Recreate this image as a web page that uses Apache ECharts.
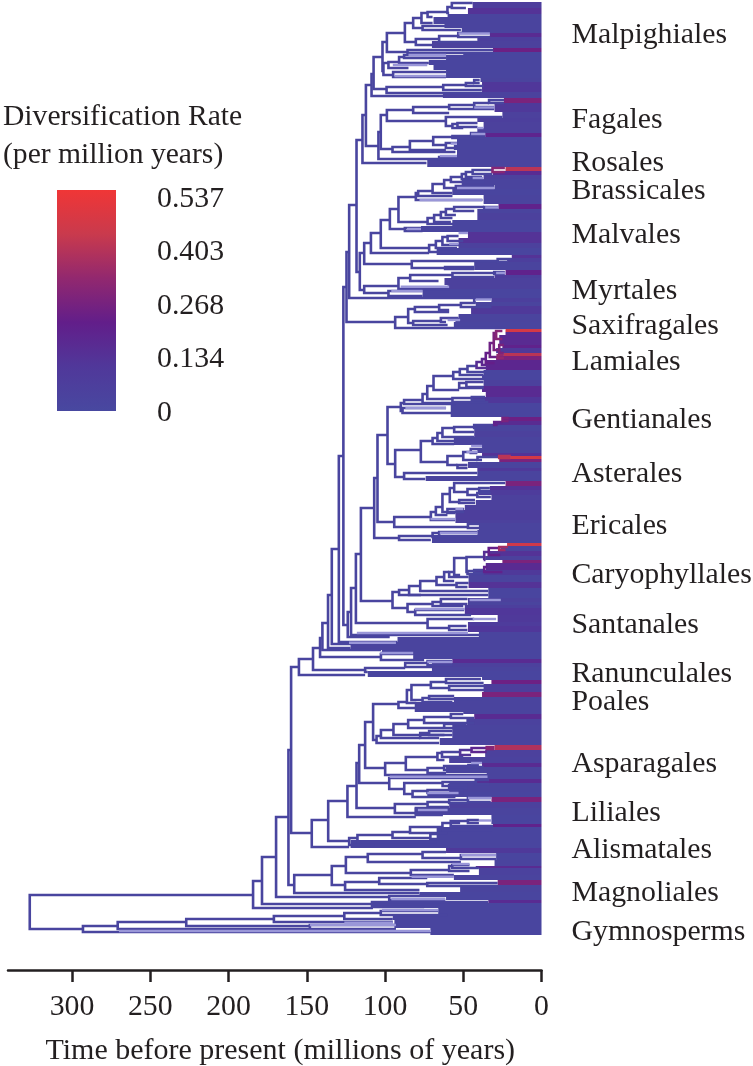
<!DOCTYPE html>
<html>
<head>
<meta charset="utf-8">
<style>
  html, body { margin: 0; padding: 0; background: #fff; }
  #chart { width: 753px; height: 1066px; }
</style>
<script src="https://cdn.jsdelivr.net/npm/echarts@6/dist/echarts.min.js"></script>
</head>
<body>
<div id="chart"></div>
<script>
// every row is one split: [age, yTop, yBottom, ageWhereTopChildEnds, ageWhereBottomChildEnds, rate]
// y is the tip position on the tree (0 at the top), rate left out = background rate
const malpighialesNodes = [
  [118.2,140,272,114.4,116.1],[114.4,115,163,112.2,73.5],[112.2,85,146,108.6,104.2],[108.6,74,96,107.3,62.8],
  [107.3,57,89,101.6,99],[101.6,42,71,98.8,101],[98.8,33,52,87.3,85.6],[87.3,23,42,82,80.3],[82,18,28,76.7,76],
  [76.7,13,23,72.8,69.6],[72.8,12,17,60.1,69.6],[60.1,7,13,57.3,59],[57.3,3,8,44,48.3],[76,26,30,61.6,51.5],
  [80.3,39,45,65.4,69.6],[65.4,36,42,53.2,40.9],[53.2,33,37,32.8,32.8],[85.6,50,53,30.7,30.7],[101,63,75,97.8,94.8],
  [97.8,62,68,91,85],[91,57,63,87.8,72],[87.8,55,58,61,61],[94.8,72,77,61,61],[99,87,93,62.8,38],[62.8,85,90,48.3,38.1],
  [48.3,83,86,43,37],[43,80,83,39.5,39.5],[104.2,132,159,102.7,65.4],[102.7,115,149,98.8,95.2],[98.8,110,121,82,61.1],
  [82,107,113,59,59],[59,105,109,43,30.2],[43,103,107,33.5,30.2],[33.5,100,103,23.9,23.9],[61.1,117,126,25,56.9],
  [56.9,124,128,53.7,50],[53.7,123,127,40.9,40.9],[95.2,147,152,83.9,55],[84.1,141,150,69.2,61.1],[69.2,137,145,56.9,61.1],
  [56.9,136,138,44.9,36.5],[45,133,136,36,36],[61.1,143,148,53.7,53.7],[65.4,157,159,53.7,53.7]
];
const rosidNodes = [
  [116.1,253,290,113.3,113.3],[113.3,243,264,109,82.9],[109,233,253,102.7,71.8],[102.7,220,248,96.9,71.8],
  [96.9,209,229,91.4,87.3],[91.4,197,222,80.3,72.8],[80.3,193,200,78.8,37.7],[78.8,191,196,69.6,56.9],[69.6,184,193,62.2,56.9],
  [62.2,180,188,57.9,54.7],[57.9,177,182,50.9,36.6],[50.9,174,179,48.3,38],[48.3,172,177,44,38],[44,170,174,31.3,31.3],
  [31.3,168,172,23.4,23.4,.3],[54.7,186,189,30.2,30.2],[72.8,218,224,68.6,56],[68.6,215,222,64.3,57.9],[64.3,212,218,61.1,56.9],
  [61.1,209,215,55.8,54.7],[55.8,207,211,36.6,43],[36.6,207,209,27.5,27.5],[87.3,228,231,77,76],[71.8,245,252,67.5,56],
  [67.5,241,248,63.3,54],[63.3,237,245,60,52],[60,236,241,53,50],[82.9,261,268,28,61.6],[28,259,262,19,21.7],[61.6,267,269,43,43],
  [113.3,286,293,91.4,97.8],[91.4,278,289,83.9,59],[83.9,275,281,56.9,65.8],[56.9,273,277,30.2,30.2],[30.2,272,274,23.4,23.4],
  [97.8,291,296,76,76],[122.9,205,298,118.2,43],[43,298,302,32,42],[124.6,252,322,122.9,93.5],[93.5,317,328,85.2,23.4],
  [85.2,309,323,80.9,82],[80.9,307,312,65.4,59],[65.4,305,310,51.5,59],[51.5,303,307,42,32],[82,321,325,64.3,60],[64.3,318,322,53,61]
];
const asteridNodes = [
  [126.6,287,625,124.6,123.8],[123.8,612,637,121.7,97],[121.7,588,635,118.6,39],[118.6,554,623,115.4,72.8],[115.4,508,601,106.9,95.2],
  [106.9,478,538,104.8,91],[104.8,435,522,98.4,94.1],[98.4,407,464,89.9,93.5],[129.5,456,642,126.6,92],[134,549,644,129.5,92],
  [89.9,403,411,87.8,88.8],[87.8,400,404,76,55],[88.8,408,413,61,57.5],[76,394,403,73,55],[73,386,399,69,57],[69,376,390,56.4,52.6],
  [56.4,372,379,52.2,37],[52.2,369,375,47.3,37],[47.3,366,372,41.5,35.6],[41.5,362,368,38,35,.15],[38,359,365,35.6,33,.18],
  [35.6,353,363,33,30,.22],[33,343,357,30.5,28,.24],[30.5,333,350,29,27,.27],[29,331,339,25,25,.3],[27,345,353,24,24,.27],[28,355,358,24,24,.32],
  [52.6,383,388,48,37],[48,382,387,37,37],[56.9,398,402,44.5,34],[44.5,397,400,36,36],
  [93.5,450,477,77.1,87.8],[77.1,441,462,69.6,60.1],[69.6,438,444,66.5,55.8],[66.5,433,441,63.3,55.8],[63.3,428,437,55.8,43],
  [55.8,427,432,43,43],[43,425,428,30.2,36],[30.2,422,425,24.9,28,.2],[24.9,418,421,21,21,.27],[60.1,456,465,50,53.7],[50,452,460,45.2,40.9],
  [45.2,449,453,38,41],[40.9,457,460,27,38],[27,456,458,19.6,19.6,.4],[53.7,465,468,47.3,47.3],[87.8,473,479,41,74.3],
  [91,536,540,69.6,70.7],[69.6,533,537,65.4,55],[65.4,532,536,41,41],[94.1,517,527,70.7,47],[70.7,512,520,67.5,55.2],[67.5,507,515,63.3,60.1],
  [63.3,494,512,58.6,49.4],[58.6,488,502,55.8,52.6],[55.8,483,492,23.2,47.3],[47.3,489,495,39.8,41],[39.8,488,491,33,33],[41,493,497,32.4,32.4],
  [52.6,500,503,42.5,42.5],[60.1,509,513,49.4,55],[47,524,528,39.8,39.8],
  [95.2,592,608,91,85.6],[91,590,595,84.6,77],[84.6,586,595,77.5,34],[77.5,581,591,67.1,34],[67.1,577,585,62.2,54.7],[62.2,572,581,59,55.8],
  [59,572,577,55.8,46.6],[55.8,558,575,47.9,52],[47.9,557,572,36.6,47.3],[36.6,552,560,33.7,37,.15],[33.7,548,555,27,26.4,.22],[27,547,550,21.5,23,.35],
  [47.3,571,574,43,37],[43,570,573,36.6,36.6],[36.6,567,572,34.5,25,.2],[54.3,583,587,46.6,47.3],[85.6,604,612,69.6,80.7],[69.6,602,606,64.3,50],
  [64.3,599,604,47.3,47.3],[80.7,610,615,49.4,45],[72.8,619,628,43,59],[59,626,630,47.9,47.3]
];
const basalEudicotNodes = [
  [136.4,595,648,134,122],[140,623,650,136.4,102.6],[141.5,638,657,140,102.6],[146,648,670,141.5,112.7],[155,659,675,146,112.7],
  [102.6,654,660,82,75],[112.7,668,672,87.1,111],[87.1,663,667,72.8,69.6],[72.8,661,665,57,57]
];
const monocotNodes = [
  [160,667,833,155,146.8],[146.8,820,847,136.3,122.9],[136.3,801,841,124,122.5],[124,786,817,118.2,80.3],[118.2,763,808,116.5,93.7],
  [116.5,745,783,112.7,97.3],[112.7,722,768,107.6,99.9],[107.6,704,740,91.4,105.4],[91.4,702,708,86,80.3],[86,690,703,83.1,80],
  [83.1,685,700,70.7,76],[70.7,682,688,61,59],[61,679,683,38.7,37],[59,686,690,36.5,36.5],[76,698,702,71.8,56.9],[71.8,696,699,55.8,38],
  [105.4,736,743,102.6,65.4],[102.6,730,738,94.6,77.5],[94.6,724,735,85.2,62],[85.2,720,728,75,62.8],[75,717,723,57.9,43],[57.9,714,718,50,43],
  [62.2,724,728,48,48],[77.5,733,738,71.8,65.4],[71.8,731,735,56.9,56.9],
  [99.9,763,775,86.7,34.5],[86.7,757,770,66.5,72.8],[66.5,753,760,63.6,62],[63.6,752,757,52,50],[52,750,755,44.7,45,.12],[44.7,748,752,35,35,.18],[35,747,749,30,30,.3],
  [72.8,768,773,62.2,61],[62.2,766,770,46.7,37],[46.7,765,767,40,37],[97.3,778,789,34.5,87.7],[87.7,783,794,63.2,82.4],[63.2,782,786,42,59],
  [42,780,784,33.5,33.5],[59,785,788,47,47],[82.4,791,797,72.8,55],[72.8,790,793,50,50],[93.7,804,813,72.8,80.3],[72.8,802,807,59,59],
  [59,800,803,47,47],[47,798,802,32.4,32.4],[80.3,808,815,63,63],
  [122.9,838,845,117.6,107],[117.6,835,842,95.2,67],[95.2,832,838,84,71],[84,827,833,63.3,60],[63.3,823,830,52,31],[58,821,826,47,31],[47,820,823,40,40],[71,834,839,65.8,65]
];
const basalNodes = [
  [158,875,893,134,78],[134,866,885,125,125.5],[125,857,873,111,83.5],[111,854,862,76,51.5],[76,852,858,61,51.5],[51.5,855,859,29,29],
  [83.5,870,875,59,56],[59,866,871,57,46],[57,865,868,46,40],[125.5,882,890,103.7,78],[103.7,878,884,73,73],[73,883,886,28,28],
  [97.3,896,900,61.5,61.5],[169.6,817,897,161.7,97.3],[161.7,750,885,160,158],[178.6,857,904,169.6,108.3],[184.3,881,908,178.6,107.7],
  [108.3,902,907,34,75],[327,895,929,184.3,293],[293,926,932,270.8,70.6],[270.8,922,929,227,148],[227,919,926,171,148],[171,916,922,126,95],
  [126,913,919,102.7,95],[102.7,911,915,66,60],[148,925,929,93,93]
];
// solid run of tips up to the present: [yTop, yBottom, age where it starts, rate]
const tipBands = [
  [2,8,44,.07],[8,14,47,.13],[14,17,60,.03],[17,24,69,.03],[24,28,62,.03],[28,33,51,.03],[33,37,33,.16],[37,41,41,.06],[41,48,70,.05],[48,52,31,.24],
  [52,55,50,.02],[55,60,61,.02],[60,65,72,.02],[65,70,69,.02],[70,78,61,.02],[78,82,39,.03],[82,92,38,.11],[92,98,63,.04],[98,103,24,.27],[103,112,30,.1],
  [112,118,25,.05],[118,122,41,.06],[122,128,37,.05],[128,133,41,.05],[133,137,36,.19],[137,145,54,.02],[145,150,56,.02],[150,158,54,.03],[158,167,73,.03],
  [167,171,23,.4],[171,175,31,.16],[175,179,37,.05],[179,185,51,.03],[185,189,30,.03],[189,195,57,.02],[195,204,37,.03],[204,209,27.5,.2],[209,213,41,.03],
  [213,220,41,.05],[220,226,57,.02],[226,232,77,.02],[232,238,47,.13],[238,243,53,.13],[243,248,53,.05],[248,255,67,.02],[255,258,19,.13],[258,262,22,.06],
  [262,270,43,.03],[270,275,23,.2],[275,278,30,.07],[278,285,62,.05],[285,289,60,.05],[289,298,76,.02],[298,302,32,.06],[302,306,42,.03],[306,314,45,.1],
  [314,318,53,.03],[318,322,55,.03],[322,329,56,.02],[329,332,23,.46],[332,335,23,.16],[335,345,27,.16],[345,348,25,.2],[348,353,29,.1],[353,356,24,.4],
  [356,360,29,.27],[360,370,35.6,.18],[370,375,37,.02],[375,380,38,.02],[380,386,37,.05],[386,392,38,.16],[392,397,35.6,.16],[397,403,44,.11],[403,407,58,.02],
  [407,417,58,.02],[417,421,25,.24],[421,425,30,.16],[425,431,43,.03],[431,437,43,.05],[437,445,56,.03],[445,449,38,.03],[449,453,41,.03],[453,456,38,.13],
  [456,459,20,.46],[459,462,27,.27],[462,468,47,.03],[468,471,41,.1],[471,476,41,.03],[476,481,74,.03],[481,486,23,.27],[486,490,33,.13],[490,495,40,.08],
  [495,500,32,.05],[500,505,42,.05],[505,510,49,.05],[510,520,55,.07],[520,523,55,.05],[523,530,40,.03],[530,535,41,.03],[535,543,70,.03],[543,546,22,.45],
  [546,551,26,.03],[551,556,33,.13],[556,560,36,.05],[560,563,25,.27],[563,570,35.6,.16],[570,575,43,.1],[575,582,46.6,.03],[582,588,46.6,.13],[588,593,34,.02],
  [593,598,34,.02],[598,602,47,.05],[602,605,47,.03],[605,608,49,.06],[608,615,49,.11],[615,622,28,.1],[622,626,47,.08],[626,632,47,.11],[632,637,40,.03],
  [637,642,92,.03],[642,645,93,.03],[645,650,122,.03],[650,655,102,.02],[655,659,82,.02],[659,663,57,.16],[663,667,70,.05],[667,671,70,.03],[671,677,111,.02],
  [677,680,38,.02],[680,684,32,.24],[684,692,37,.07],[692,697,38,.27],[697,702,56,.03],[702,712,81,.03],[712,714,50,.03],[714,719,43,.16],[719,725,48,.04],
  [725,738,57,.03],[738,745,65,.03],[745,750,30,.38],[750,757,36,.05],[757,763,59,.04],[763,767,38,.16],[767,773,61,.03],[773,779,35,.03],[779,783,42,.16],
  [783,792,59,.03],[792,797,73,.02],[797,802,32,.27],[802,808,59,.05],[808,815,81,.03],[815,824,32,.02],[824,827,31,.2],[827,833,67,.02],[833,840,67,.02],
  [840,848,122,.02],[848,853,61,.1],[853,860,29,.02],[860,866,30,.03],[866,868,42,.16],[868,875,40,.04],[875,880,56,.03],[880,885,28,.27],[885,892,52,.03],
  [892,897,78,.02],[897,900,61,.02],[900,903,34,.16],[903,908,108,.02],[908,914,66,.02],[914,920,95,.02],[920,928,94,.02],[928,932,71,.02],[932,935,71,.02]
];
// pale side by side tips just before the solid run: [y, ageLeft, ageRight]
const paleTips = [
  [33.5,53,33],[55,85,61],[65,95,73],[76,94,61],[107.5,43,30],[128,41,37],[134,45,36],[143.5,58,54],[156,65,54],
  [178,44,37],[188,54,30],[200,78,38],[207.5,36,27.5],[229,86,77],[244,59,53],[233,53,47],[286.7,90,59],[291,96,76],[299.5,42,32],[273,29,23],[320,60,52],
  [408,87,61],[446,45,38],[452,48,41],[533,65,41],[509,55,50],[519,71,55],[600,46,26],[619,44,29],[633,118,47],[609,81,49],
  [642.7,123,93],[653,103,82],[662,73,57],[810,79,60],[776.7,97,34.5],[763,45,38],[798,47,32],[820.5,40,32],[793,73,53],
  [855,51.5,29],[864,57,46],[876.7,83,56],[899,96,61.5],[910,102,66],[922.7,126,95],[925,148,93],[931,270,70.6]
];
const orders = ["Malpighiales","Fagales","Rosales","Brassicales","Malvales","Myrtales","Saxifragales","Lamiales","Gentianales","Asterales","Ericales","Caryophyllales","Santanales","Ranunculales","Poales","Asparagales","Liliales","Alismatales","Magnoliales","Gymnosperms"];
const orderPos = [35,120,163,191,235,291,326,362,420,474,526,575,625,674,702,764,813,850,893,932];
const ageTicks = [0,50,100,150,200,250,300];
const rateTicks = [0,0.134,0.268,0.403,0.537];
const rampColors = ["#4848a0","#50389a","#621e8a","#92286f","#c93a4d","#f03636"];
const baseRate = 0.02;

const textColor = "#231f20";
const serif = "Liberation Serif";
const fontSize = 29.8;
const treeData = [].concat(malpighialesNodes, rosidNodes, asteridNodes, basalEudicotNodes, monocotNodes, basalNodes)
  .map((n) => [n[5] || baseRate, n[0], n[1], n[2], n[3], n[4]]);
const bandData = tipBands.map((b) => [b[3], b[0], b[1], b[2]]);
// bottom of the bar is rate 0, top is the highest rate
const rampStops = rampColors.map((c, i) => ({ offset: 1 - i / (rampColors.length - 1), color: c }));

const chart = echarts.init(document.getElementById("chart"), null, { renderer: "canvas" });
const option = {
  animation: false,
  backgroundColor: "#fff",
  title: [
    { text: "Diversification Rate", left: 3, top: 102, padding: 0, textStyle: { fontFamily: serif, fontSize: 29.6, fontWeight: "normal", color: textColor } },
    { text: "(per million years)", left: 3, top: 140, padding: 0, textStyle: { fontFamily: serif, fontSize: 29.6, fontWeight: "normal", color: textColor } },
  ],
  grid: [
    { left: 8, width: 533.5, top: 0, height: 970, outerBoundsMode: "none" },
    { left: 57, width: 59, top: 199, height: 214, outerBoundsMode: "none" },
  ],
  graphic: [
    {
      type: "rect", left: 57, top: 190, silent: true,
      shape: { width: 59, height: 221 },
      style: { fill: new echarts.graphic.LinearGradient(0, 0, 0, 1, rampStops) },
    },
  ],
  xAxis: [
    {
      type: "value", inverse: true, min: 0, max: 340.9, position: "bottom",
      name: "Time before present (millions of years)",
      nameLocation: "middle", nameGap: 66,
      nameTextStyle: { fontFamily: serif, fontSize: 30, color: textColor, padding: [0, 0, 0, 11] },
      axisLine: { onZero: false, lineStyle: { color: textColor, width: 2.5 } },
      axisTick: { customValues: ageTicks, length: 12, lineStyle: { color: textColor, width: 2.5 } },
      axisLabel: { customValues: ageTicks, margin: 22, fontFamily: serif, fontSize: fontSize, color: textColor },
      splitLine: { show: false },
    },
    { gridIndex: 1, type: "value", min: 0, max: 1, show: false },
  ],
  yAxis: [
    {
      type: "value", inverse: true, min: 0, max: 970, position: "right",
      axisLine: { show: false }, axisTick: { show: false }, splitLine: { show: false },
      axisLabel: {
        customValues: orderPos, margin: 30, fontFamily: serif, fontSize: fontSize, color: textColor,
        formatter: (v) => orders[orderPos.indexOf(v)],
      },
    },
    {
      gridIndex: 1, type: "value", min: 0, max: 0.537, position: "right",
      axisLine: { show: false }, axisTick: { show: false }, splitLine: { show: false },
      axisLabel: { customValues: rateTicks, margin: 41, fontFamily: serif, fontSize: fontSize, color: textColor, formatter: (v) => String(v) },
    },
  ],
  visualMap: {
    type: "continuous", show: false, min: 0, max: 0.537, dimension: 0, seriesIndex: [0, 1],
    inRange: { color: rampColors },
  },
  series: [
    {
      type: "custom", coordinateSystem: "cartesian2d", silent: true, clip: false,
      encode: { x: [3], y: [1, 2] }, data: bandData, z: 1,
      renderItem: (params, api) => {
        const a = api.coord([api.value(3), api.value(1)]);
        const b = api.coord([0, api.value(2)]);
        return { type: "rect", shape: { x: a[0], y: a[1], width: b[0] - a[0], height: b[1] - a[1] }, style: { fill: api.visual("color") } };
      },
    },
    {
      type: "custom", coordinateSystem: "cartesian2d", silent: true, clip: false,
      encode: { x: [1, 4, 5], y: [2, 3] }, data: treeData, z: 2,
      renderItem: (params, api) => {
        const pts = [
          api.coord([api.value(4), api.value(2)]),
          api.coord([api.value(1), api.value(2)]),
          api.coord([api.value(1), api.value(3)]),
          api.coord([api.value(5), api.value(3)]),
        ];
        return { type: "polyline", shape: { points: pts }, style: { fill: "none", stroke: api.visual("color"), lineWidth: 2.6 } };
      },
    },
    {
      type: "custom", coordinateSystem: "cartesian2d", silent: true, clip: false,
      encode: { x: [1, 2], y: [0] }, data: paleTips, z: 3,
      renderItem: (params, api) => {
        const a = api.coord([api.value(1), api.value(0)]);
        const b = api.coord([api.value(2), api.value(0)]);
        return { type: "line", shape: { x1: a[0], y1: a[1], x2: b[0], y2: b[1] }, style: { stroke: "#9a97d8", lineWidth: 2.4 } };
      },
    },
  ],
};
chart.setOption(option);
</script>
</body>
</html>
